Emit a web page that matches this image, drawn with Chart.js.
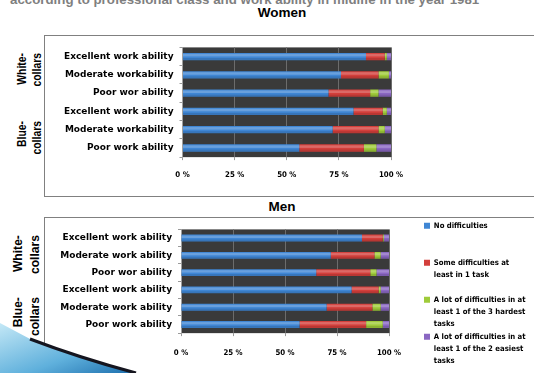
<!DOCTYPE html>
<html><head><meta charset="utf-8">
<script src="https://cdn.jsdelivr.net/npm/chart.js@4/dist/chart.umd.min.js"></script>
<style>
html,body{margin:0;padding:0;background:#fff;width:534px;height:373px;overflow:hidden;position:relative;font-family:'Liberation Sans',Arial,sans-serif;}
.abs{position:absolute;}
#title{left:10px;top:-8px;font-size:13.3px;font-weight:bold;color:#7f7f7f;white-space:nowrap;}
.ct{left:0;width:564px;text-align:center;font-size:13.5px;font-weight:bold;color:#000;}
.box{border:1px solid #808080;background:#fff;}
.grp{width:60px;text-align:right;font-size:13px;font-weight:bold;color:#000;}
canvas{position:absolute;}
</style>
</head><body>
<div id="title" class="abs">according to professional class and work ability in midlife in the year 1981</div>
<div class="abs ct" style="top:5px">Women</div>
<div class="abs box" style="left:44px;top:35px;width:520px;height:160px"></div>
<div class="abs ct" style="top:199px">Men</div>
<div class="abs box" style="left:44px;top:217px;width:520px;height:200px"></div>

<canvas id="c1" width="489" height="159" style="left:45px;top:36px"></canvas>
<canvas id="c2" width="489" height="155" style="left:45px;top:218px"></canvas>

<div class="abs grp" style="left:-1.5px;top:62px;line-height:15px;transform:rotate(-90deg) scaleX(0.8)">White-<br>collars</div>
<div class="abs grp" style="left:-1.5px;top:130px;line-height:15px;transform:rotate(-90deg) scaleX(0.8)">Blue-<br>collars</div>
<div class="abs grp" style="left:-4px;top:246px;line-height:17px;transform:rotate(-90deg) scaleX(0.93)">White-<br>collars</div>
<div class="abs grp" style="left:-4px;top:308px;line-height:17px;transform:rotate(-90deg) scaleX(0.93)">Blue-<br>collars</div>

<svg class="abs" style="left:0;top:318px" width="150" height="55">
  <defs><linearGradient id="sw" x1="0" y1="0" x2="1" y2="1">
    <stop offset="0" stop-color="#c4e8f6"/><stop offset="0.6" stop-color="#5fb0dc"/><stop offset="1" stop-color="#1d6fae"/></linearGradient></defs>
  <path d="M0,5 L32,22 Q80,40 135,55 L0,55 Z" fill="url(#sw)"/>
  <path d="M30,21 Q80,40 136,55" stroke="#15151f" stroke-width="3" fill="none"/>
</svg>

<script>
// ---- data ----
const womenCategories = ["Excellent work ability","Moderate workability","Poor wor ability","Excellent work ability","Moderate workability","Poor work ability"];
const menCategories   = ["Excellent work ability","Moderate work ability","Poor wor ability","Excellent work ability","Moderate work ability","Poor work ability"];
const seriesNames = ["No difficulties","Some difficulties at least in 1 task","A lot of difficulties in at least 1 of the 3 hardest tasks","A lot of difficulties in at least 1 of the 2 easiest tasks"];
const legendLines = [
  ["No difficulties","",""],
  ["Some difficulties at","least in 1 task",""],
  ["A lot of difficulties in at","least 1 of the 3 hardest","tasks"],
  ["A lot of difficulties in at","least 1 of the 2 easiest","tasks"]
];
const womenNoDiff   = [88, 76, 70, 82, 72, 56];
const womenSome     = [9, 18, 20, 14, 22, 31];
const womenHardest  = [1, 5, 4, 2, 3, 6];
const womenEasiest  = [2, 1, 6, 2, 3, 7];
const menNoDiff     = [87, 72, 65, 82, 70, 57];
const menSome       = [10, 21, 26, 13, 22, 32];
const menHardest    = [0.5, 3, 3, 1, 4, 8];
const menEasiest    = [2.5, 4, 6, 4, 4, 3];
const xTicks = [0, 25, 50, 75, 100];
const colors = ["#3f86d4", "#d33f3b", "#9fcb3a", "#8a67c2"];

const FB = "'DejaVu Sans',sans-serif";
const FC = "'DejaVu Sans Condensed','DejaVu Sans',sans-serif";

const plotBg = {
  id: 'plotBg',
  beforeDraw(chart) {
    const {ctx, chartArea: a} = chart;
    ctx.save(); ctx.fillStyle = '#3a3a3a';
    ctx.fillRect(a.left, a.top, a.width, a.height);
    ctx.restore();
  }
};

// glossy highlight on the upper part of each bar, using the bar elements' own geometry
const gloss = {
  id: 'gloss',
  afterDatasetsDraw(chart) {
    const ctx = chart.ctx;
    ctx.save();
    chart.data.datasets.forEach((ds, di) => {
      chart.getDatasetMeta(di).data.forEach(el => {
        const p = el.getProps(['x', 'y', 'base', 'height'], true);
        const left = Math.min(p.x, p.base), w = Math.abs(p.x - p.base);
        const top = p.y - p.height / 2;
        ctx.fillStyle = 'rgba(255,255,255,0.22)';
        ctx.fillRect(left, top + 1, w, p.height * 0.35);
        ctx.fillStyle = 'rgba(0,0,0,0.12)';
        ctx.fillRect(left, top + p.height * 0.7, w, p.height * 0.3);
      });
    });
    ctx.restore();
  }
};

const legendPlace = {
  id: 'legendPlace',
  afterInit(chart) {
    const lg = chart.legend; if (!lg) return;
    const orig = lg.fit;
    lg.fit = function () {
      const mh = this.maxHeight; this.maxHeight = 2000;
      orig.call(this);
      this.maxHeight = mh; this.height = mh; this.width = 145;
    };
  },
  afterLayout(chart) {
    const lg = chart.legend; if (!lg || !lg.options.display) return;
    lg.left = chart.chartArea.right + 34;
    lg.right = lg.left + 111;
  }
};

function makeDatasets(a, b, c, d) {
  return [a, b, c, d].map((vals, i) => ({
    label: seriesNames[i], data: vals, backgroundColor: colors[i], borderWidth: 0,
    barPercentage: 0.4, categoryPercentage: 1
  }));
}

function makeOptions(yWidth, padRight, tickPad, padBottom, legendOn) {
  return {
    indexAxis: 'y', responsive: false, animation: false,
    layout: {padding: {top: 0, right: padRight, bottom: padBottom, left: 0}},
    scales: {
      x: {
        stacked: true, min: 0, max: 100,
        afterBuildTicks(s) { s.ticks = xTicks.map(v => ({value: v})); },
        ticks: {callback: v => v + ' %', font: {family: FC, size: 7.8, weight: 'bold'}, color: '#000', padding: tickPad, maxRotation: 0},
        grid: {color: '#6c6c6c', tickColor: '#9a9a9a', tickLength: 3},
        border: {display: false}
      },
      y: {
        stacked: true,
        afterFit(s) { s.width = yWidth; },
        ticks: {font: {family: FB, size: 9, weight: 'bold'}, color: '#000', padding: 6, autoSkip: false},
        grid: {drawOnChartArea: false, offset: true, tickLength: 3, color: '#9a9a9a'},
        border: {color: '#a0a0a0'}
      }
    },
    plugins: {
      tooltip: {enabled: false},
      legend: {
        display: legendOn, position: 'right', align: 'start',
        title: {display: true, text: '', padding: 0, font: {size: 3, lineHeight: '3px'}},
        labels: {
          boxWidth: 6, boxHeight: 6, padding: 1, color: '#000',
          font: {family: FC, size: 7.7, weight: 'bold', lineHeight: '12px'},
          generateLabels(chart) {
            const items = Chart.defaults.plugins.legend.labels.generateLabels(chart);
            items.forEach((it, i) => { it.text = legendLines[i]; });
            return items;
          }
        }
      }
    }
  };
}

new Chart(document.getElementById('c1'), {
  type: 'bar',
  data: {labels: womenCategories, datasets: makeDatasets(womenNoDiff, womenSome, womenHardest, womenEasiest)},
  options: makeOptions(137.5, 143, 10.5, 4.5, false),
  plugins: [plotBg, gloss]
});

new Chart(document.getElementById('c2'), {
  type: 'bar',
  data: {labels: menCategories, datasets: makeDatasets(menNoDiff, menSome, menHardest, menEasiest)},
  options: makeOptions(136, 0, 12.5, 2.5, true),
  plugins: [plotBg, gloss, legendPlace]
});
</script>
</body></html>
